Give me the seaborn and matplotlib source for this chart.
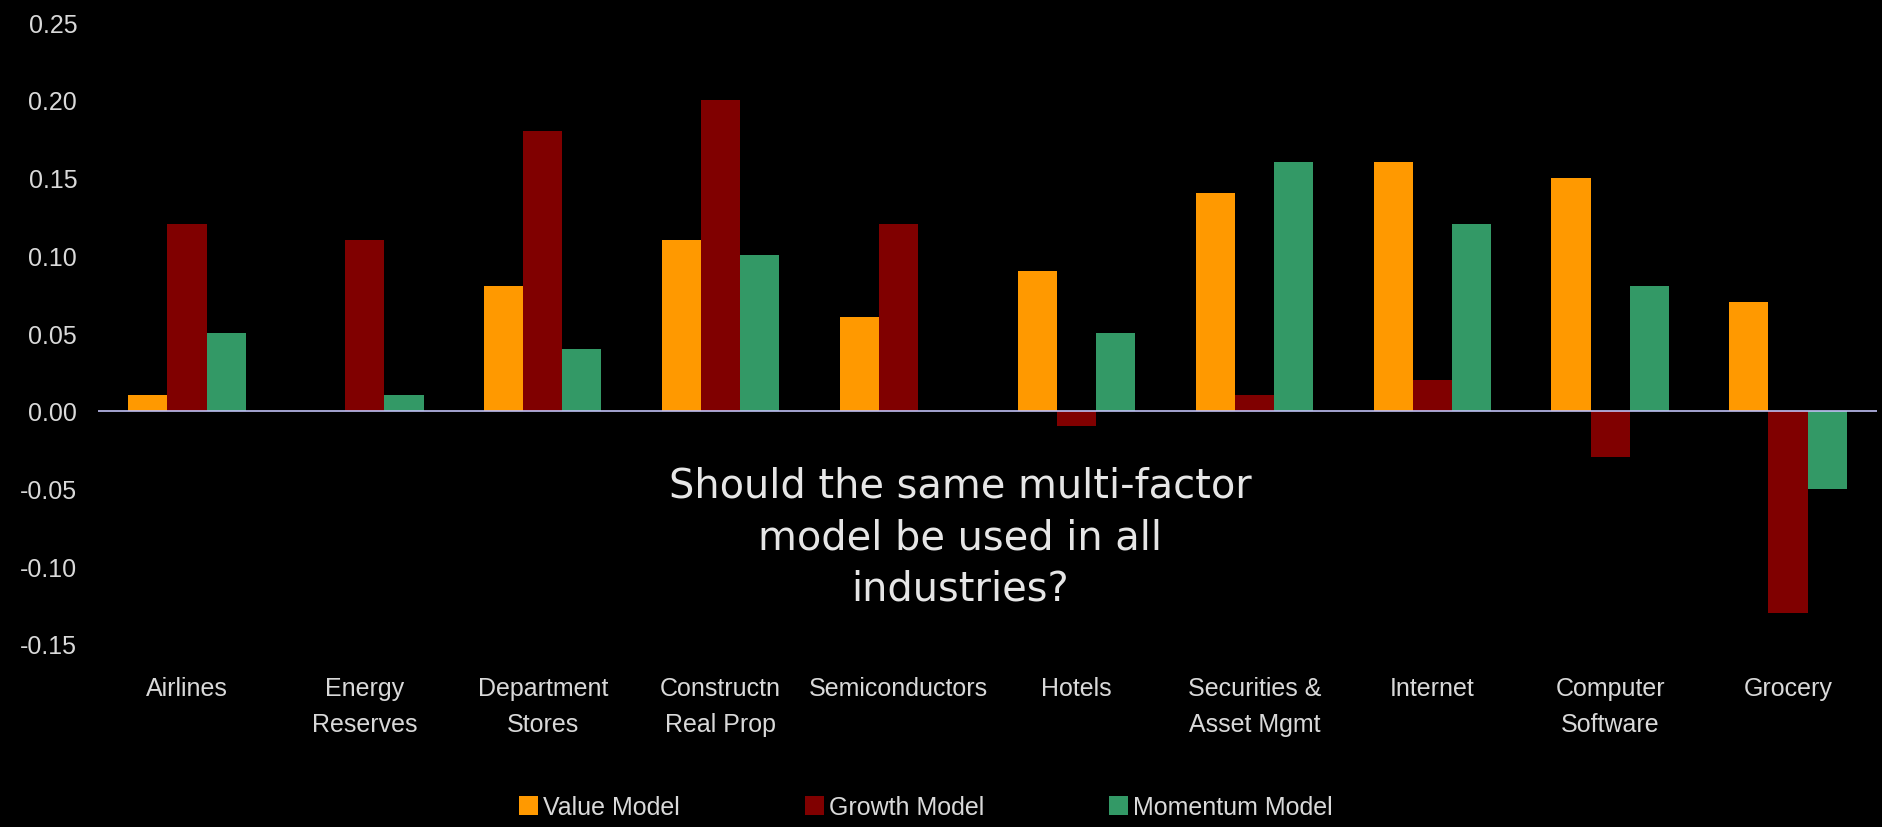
import matplotlib
matplotlib.use("Agg")
import matplotlib.pyplot as plt
import pandas as pd
import seaborn as sns

# ---- data -------------------------------------------------------------
industries = [
    "Airlines", "Energy\nReserves", "Department\nStores", "Constructn\nReal Prop",
    "Semiconductors", "Hotels", "Securities &\nAsset Mgmt", "Internet",
    "Computer\nSoftware", "Grocery",
]
value_model = [0.01, 0.00, 0.08, 0.11, 0.06, 0.09, 0.14, 0.16, 0.15, 0.07]
growth_model = [0.12, 0.11, 0.18, 0.20, 0.12, -0.01, 0.01, 0.02, -0.03, -0.13]
momentum_model = [0.05, 0.01, 0.04, 0.10, 0.00, 0.05, 0.16, 0.12, 0.08, -0.05]
series_names = ["Value Model", "Growth Model", "Momentum Model"]
y_ticks = [-0.15, -0.10, -0.05, 0.00, 0.05, 0.10, 0.15, 0.20, 0.25]
question = "Should the same multi-factor\nmodel be used in all\nindustries?"

# ---- styling ----------------------------------------------------------
sns.set_style("dark")
plt.rcParams["font.family"] = ["Liberation Sans", "DejaVu Sans"]
plt.rcParams["axes.unicode_minus"] = False

palette = {"Value Model": "#FF9900", "Growth Model": "#800000", "Momentum Model": "#339966"}
text_color = "#d9d9d9"

df = pd.DataFrame({
    "industry": industries * 3,
    "model": [series_names[0]] * 10 + [series_names[1]] * 10 + [series_names[2]] * 10,
    "value": value_model + growth_model + momentum_model,
})

W, H, DPI = 1882, 828, 100
fig = plt.figure(figsize=(W / DPI, H / DPI), dpi=DPI, facecolor="black")
ax = fig.add_axes([98 / W, 1 - 645 / H, (1877 - 98) / W, (645 - 23) / H])
ax.set_facecolor("black")

sns.barplot(
    data=df, x="industry", y="value", hue="model", order=industries,
    hue_order=series_names, palette=palette, width=0.66, saturation=1,
    linewidth=0, errorbar=None, ax=ax,
)

ax.set_xlim(-0.5, len(industries) - 0.5)
ax.set_ylim(y_ticks[0], y_ticks[-1])
ax.set_yticks(y_ticks)
ax.set_yticklabels([f"{t:.2f}" for t in y_ticks])
ax.grid(False)
for s in ax.spines.values():
    s.set_visible(False)
ax.axhline(0, color="#c0c0f4", lw=1.2, zorder=3)

ax.tick_params(axis="y", length=0, pad=15, labelsize=18, labelcolor=text_color)
ax.tick_params(axis="x", length=0, pad=23, labelsize=18, labelcolor=text_color)
for lbl in ax.get_xticklabels():
    lbl.set_linespacing(1.62)
ax.set_xlabel("")
ax.set_ylabel("")

leg = ax.legend(
    loc="center", bbox_to_anchor=(926 / W, 1 - 808 / H), bbox_transform=fig.transFigure,
    ncol=3, frameon=False, fontsize=18, handlelength=0.76, handleheight=0.76,
    handletextpad=0.2, columnspacing=5.0, labelcolor=text_color,
)

fig.text(
    960 / W, 1 - 538 / H, question, ha="center", va="center", multialignment="center",
    fontsize=28.7, color="#e6e6e6", family=["DejaVu Sans"], linespacing=1.36,
)

fig.savefig("out.png", dpi=DPI, facecolor="black")
